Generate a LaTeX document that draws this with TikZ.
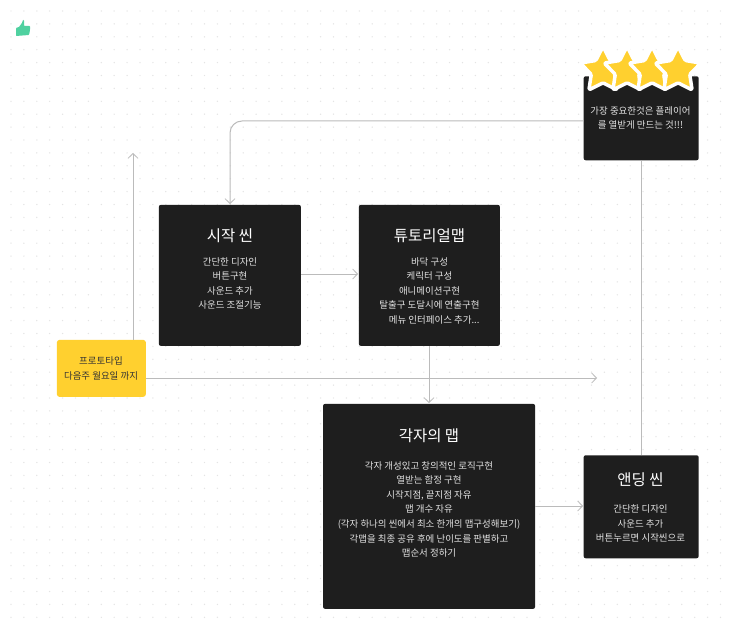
\documentclass[tikz,border=0pt]{standalone}
\usepackage{fontspec}
\setmainfont{Noto Sans CJK KR}
\usetikzlibrary{arrows.meta,shapes.geometric}
\definecolor{boxc}{HTML}{1E1E1E}
\definecolor{yel}{HTML}{FFD02F}
\definecolor{linec}{HTML}{BBBBBB}
\definecolor{dotc}{HTML}{E4E4E4}
\definecolor{grn}{HTML}{4FD1A0}
\definecolor{bodyc}{HTML}{E2E2E2}
\tikzset{
  darkbox/.style={fill=boxc,rounded corners=1.5pt,inner sep=0,anchor=north west},
  notebox/.style={fill=yel,rounded corners=2pt,inner sep=0,anchor=north west},
  titletext/.style={text=white,font=\fontsize{11.6}{14}\selectfont,inner sep=0,anchor=center},
  bodytext/.style={text=bodyc,font=\fontsize{7.1}{10.95}\selectfont,align=center,inner sep=0,anchor=north},
  notetext/.style={text=black!80,font=\fontsize{7.1}{10.95}\selectfont,align=center,inner sep=0,anchor=center},
  conn/.style={draw=linec,line width=0.75pt},
  connarrow/.style={conn,-{Straight Barb[length=3.6pt,width=7.5pt,line width=0.6pt]}},
  starshape/.style={star,star points=5,star point ratio=1.95,minimum size=36pt,inner sep=0,fill=yel,draw=white,line width=2.6pt,line join=round,rounded corners=1pt}
}
\begin{document}
\begin{tikzpicture}[x=0.75pt,y=-0.75pt]
\useasboundingbox (0,0) rectangle (731,631);
\fill[white] (0,0) rectangle (731,631);
\foreach \i in {0,...,55}{\foreach \j in {0,...,47}{
  \fill[dotc] ({11+12.9*\i},{11+12.9*\j}) circle (0.55pt);
}}
% boxes
\node[darkbox,minimum width=106.5pt,minimum height=105.75pt] (start) at (158.6,204.6) {};
\node[darkbox,minimum width=105.75pt,minimum height=105.75pt] (tut) at (358.6,204.6) {};
\node[darkbox,minimum width=159pt,minimum height=153.75pt] (maps) at (322.8,403.6) {};
\node[darkbox,minimum width=86.25pt,minimum height=77.25pt] (end) at (583.4,455) {};
\node[darkbox,minimum width=86.25pt,minimum height=63pt] (top) at (583.4,76) {};
\node[notebox,minimum width=66.75pt,minimum height=42.75pt] (proto) at (56.6,339.6) {};
\coordinate (upend) at (133,153);
\coordinate (rightend) at (597,378);
% connectors
\draw[connarrow] (proto.north -| upend) -- (upend);
\draw[connarrow] (proto.east |- rightend) -- (rightend);
\draw[connarrow,rounded corners=9pt] (top.west |- 0,121) -- (230,121) -- (230,204);
\draw[connarrow] (start.east |- 0,274) -- (358,274);
\draw[connarrow] (429,346) -- (429,403);
\draw[connarrow] (maps.east |- 0,506) -- (583,506);
\draw[conn] (end.north -| 641,0) -- (top.south -| 641,0);
% text
\node[titletext] (t1) at (230,236) {시작 씬};
\node[bodytext] (b1) at (230,257) {간단한 디자인\\버튼구현\\사운드 추가\\사운드 조절기능};
\node[titletext] (t2) at (429.5,236) {튜토리얼맵};
\node[bodytext] (b2) at (429.5,257) {바닥 구성\\케릭터 구성\\애니메이션구현\\탈출구 도달시에 연출구현\\\hspace*{7pt}메뉴 인터페이스 추가...};
\node[titletext] (t3) at (429,436) {각자의 맵};
\node[bodytext] (b3) at (429,461) {각자 개성있고 창의적인 로직구현\\열받는 함정 구현\\시작지점, 끝지점 자유\\맵 개수 자유\\(각자 하나의 씬에서 최소 한개의 맵구성해보기)\\각맵을 최종 공유 후에 난이도를 판별하고\\맵순서 정하기};
\node[titletext] (t4) at (640.5,480) {앤딩 씬};
\node[bodytext] (b4) at (640.5,504.5) {간단한 디자인\\사운드 추가\\버튼누르면 시작씬으로};
\node[bodytext] (b5) at (640.5,106) {가장 중요한것은 플레이어\\를 열받게 만드는 것!!!};
\node[notetext] (n1) at (101,368.7) {프로토타입\\다음주 월요일 까지};
% stars
\node[starshape] (s1) at (603,70.5) {};
\node[starshape] (s2) at (627,70.5) {};
\node[starshape] (s3) at (652,70.5) {};
\node[starshape] (s4) at (678,70.5) {};
% thumb
\fill[white] (14,26) -- (19,23) -- (24,17) -- (31,25) -- (31,37) -- (14,38) -- cycle;
\fill[grn,rounded corners=0.5pt] (16,28) -- (19,27) -- (22,23) -- (23,20) -- (24,20) -- (24,26) -- (30,26) -- (30,30) -- (29,35) -- (16,36) -- cycle;
\end{tikzpicture}
\end{document}
